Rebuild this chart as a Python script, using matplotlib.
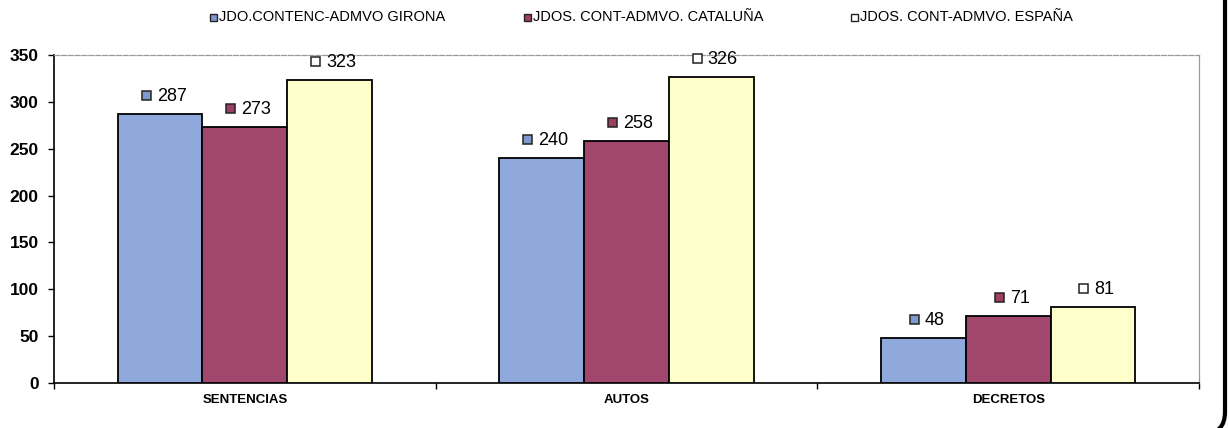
import matplotlib
matplotlib.use("Agg")
import matplotlib.pyplot as plt
import numpy as np
from matplotlib.patches import Rectangle, FancyBboxPatch

plt.rcParams['font.family'] = ['Liberation Sans', 'DejaVu Sans']

categories = ["SENTENCIAS", "AUTOS", "DECRETOS"]
series_names = ["JDO.CONTENC-ADMVO GIRONA", "JDOS. CONT-ADMVO. CATALUÑA", "JDOS. CONT-ADMVO. ESPAÑA"]
girona = [287, 240, 48]
cataluna = [273, 258, 71]
espana = [323, 326, 81]
yticks = [0, 50, 100, 150, 200, 250, 300, 350]

series = [girona, cataluna, espana]
colors = ["#90A9DD", "#A1466C", "#FFFFCC"]
mcolors = ["#7F98D0", "#9C3F63", "#FFFFFF"]

W, H = 1229, 428
fig = plt.figure(figsize=(W / 100, H / 100), dpi=100)
ax = fig.add_axes([54 / W, 1 - 383 / H, (1199 - 54) / W, (383 - 55) / H])

x = np.arange(len(categories))
bw = 0.222
for i, vals in enumerate(series):
    ax.bar(x + (i - 1) * bw, vals, width=bw, color=colors[i], edgecolor="black",
           linewidth=1.3, zorder=3)

ax.set_xlim(-0.5, len(categories) - 0.5)
ax.set_ylim(0, 350)
ax.set_yticks(yticks)
ax.set_yticklabels([str(t) for t in yticks], fontsize=12.5, fontweight="bold")
ax.set_xticks(x)
ax.set_xticklabels(categories, fontsize=9.5, fontweight="bold")
ax.tick_params(axis="x", length=0, pad=8)
ax.set_xticks(np.arange(len(categories) + 1) - 0.5, minor=True)
ax.tick_params(axis="x", which="minor", length=4, direction="out", width=1)
ax.tick_params(axis="y", length=4, direction="out", width=1, pad=7)

for s in ["left", "bottom"]:
    ax.spines[s].set_color("black")
    ax.spines[s].set_linewidth(1.2)
ax.spines["top"].set_color("#9A9A9A")
ax.spines["top"].set_linestyle((0, (4, 1.5)))
ax.spines["top"].set_linewidth(0.9)
ax.spines["right"].set_color("#9A9A9A")
ax.spines["right"].set_linewidth(0.9)

# data labels: marker + value, centered over each bar
fig.canvas.draw()
renderer = fig.canvas.get_renderer()
msize = 9
gap = 6
for i, vals in enumerate(series):
    for j, v in enumerate(vals):
        xc = x[j] + (i - 1) * bw
        px, py = ax.transData.transform((xc, v))
        py += 18
        t = fig.text(0, 0, str(v), fontsize=13, va="center", ha="left",
                     transform=None)
        bb = t.get_window_extent(renderer)
        total = msize + gap + bb.width
        left = px - total / 2 + 4
        t.set_position((left + msize + gap, py))
        fig.add_artist(Rectangle((left, py - msize / 2 + 1), msize, msize,
                                 facecolor=mcolors[i], edgecolor="#222222",
                                 linewidth=1.1, transform=None))

# legend
leg_x = [210, 524, 851]
leg_y = H - 17
for i, name in enumerate(series_names):
    fig.add_artist(Rectangle((leg_x[i], leg_y - 3.5), 7, 7, facecolor=mcolors[i],
                             edgecolor="#222222", linewidth=1.0, transform=None))
    fig.text(leg_x[i] + 9, leg_y, name, fontsize=10.5, va="center", ha="left",
             transform=None)

# page frame (right edge, rounded corner)
fig.add_artist(FancyBboxPatch((-60, -6), 1285, 600,
                              boxstyle="round,pad=0,rounding_size=22",
                              facecolor="none", edgecolor="black", linewidth=3,
                              transform=None))

fig.savefig("out.png", dpi=100)
